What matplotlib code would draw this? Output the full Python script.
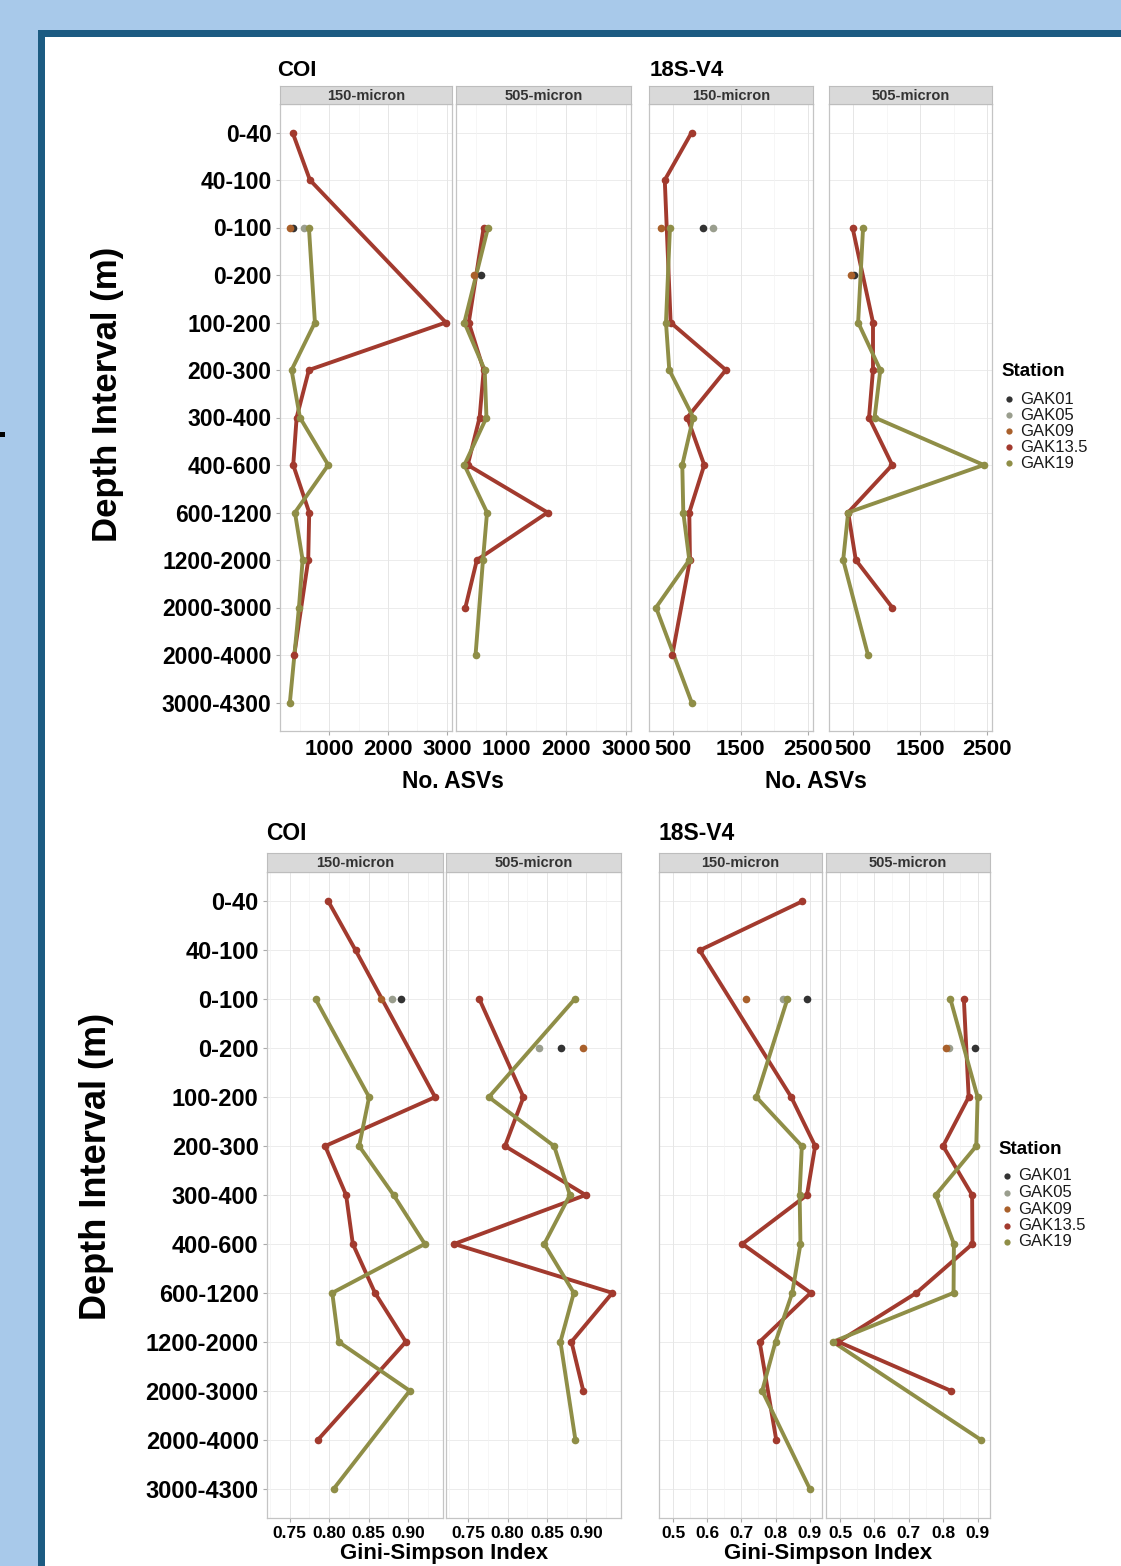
import matplotlib
matplotlib.use('Agg')
import matplotlib.pyplot as plt
from matplotlib.patches import Rectangle

plt.rcParams['font.family'] = ['Liberation Sans', 'DejaVu Sans']

W, H = 1121, 1566
DPI = 100

# ---------------- data ----------------
depth_intervals = ["0-40", "40-100", "0-100", "0-200", "100-200", "200-300", "300-400",
                   "400-600", "600-1200", "1200-2000", "2000-3000", "2000-4000", "3000-4300"]

station_names = ["GAK01", "GAK05", "GAK09", "GAK13.5", "GAK19"]
station_colors = ["#333333", "#9a9e8e", "#a9602b", "#a23a2e", "#8f8e47"]

N = None
# No. ASVs, COI, 150-micron
coi_asv_150_gak01 = [N, N, 376, N, N, N, N, N, N, N, N, N, N]
coi_asv_150_gak05 = [N, N, 574, N, N, N, N, N, N, N, N, N, N]
coi_asv_150_gak09 = [N, N, 330, N, N, N, N, N, N, N, N, N, N]
coi_asv_150_gak135 = [376, 671, N, N, 2983, 654, 445, 387, 659, 642, N, 404, N]
coi_asv_150_gak19 = [N, N, 654, N, 756, 359, 501, 983, 416, 547, 484, N, 330]
# No. ASVs, COI, 505-micron
coi_asv_505_gak01 = [N, N, N, 586, N, N, N, N, N, N, N, N, N]
coi_asv_505_gak05 = [N] * 13
coi_asv_505_gak09 = [N, N, N, 455, N, N, N, N, N, N, N, N, N]
coi_asv_505_gak135 = [N, N, 625, N, 375, 625, 557, 358, 1693, 511, 319, N, N]
coi_asv_505_gak19 = [N, N, 698, N, 302, 642, 671, 302, 681, 613, N, 489, N]
# No. ASVs, 18S-V4, 150-micron
s18_asv_150_gak01 = [N, N, 944, N, N, N, N, N, N, N, N, N, N]
s18_asv_150_gak05 = [N, N, 1092, N, N, N, N, N, N, N, N, N, N]
s18_asv_150_gak09 = [N, N, 313, N, N, N, N, N, N, N, N, N, N]
s18_asv_150_gak135 = [772, 373, N, N, 460, 1280, 707, 959, 737, 747, N, 485, N]
s18_asv_150_gak19 = [N, N, 450, N, 391, 440, 796, 633, 648, 737, 243, N, 772]
# No. ASVs, 18S-V4, 505-micron
s18_asv_505_gak01 = [N, N, N, 515, N, N, N, N, N, N, N, N, N]
s18_asv_505_gak05 = [N] * 13
s18_asv_505_gak09 = [N, N, N, 472, N, N, N, N, N, N, N, N, N]
s18_asv_505_gak135 = [N, N, 490, N, 796, 796, 737, 1083, 425, 539, 1083, N, N]
s18_asv_505_gak19 = [N, N, 648, N, 574, 905, 820, 2450, 425, 351, N, 722, N]

# Gini-Simpson, COI, 150-micron
coi_gs_150_gak01 = [N, N, 0.891, N, N, N, N, N, N, N, N, N, N]
coi_gs_150_gak05 = [N, N, 0.879, N, N, N, N, N, N, N, N, N, N]
coi_gs_150_gak09 = [N, N, 0.866, N, N, N, N, N, N, N, N, N, N]
coi_gs_150_gak135 = [0.799, 0.8335, N, N, 0.934, 0.795, 0.8215, 0.830, 0.858, 0.897, N, 0.786, N]
coi_gs_150_gak19 = [N, N, 0.783, N, 0.8506, 0.838, 0.8815, 0.921, 0.804, 0.812, 0.902, N, 0.806]
# Gini-Simpson, COI, 505-micron
coi_gs_505_gak01 = [N, N, N, 0.868, N, N, N, N, N, N, N, N, N]
coi_gs_505_gak05 = [N, N, N, 0.840, N, N, N, N, N, N, N, N, N]
coi_gs_505_gak09 = [N, N, N, 0.896, N, N, N, N, N, N, N, N, N]
coi_gs_505_gak135 = [N, N, 0.764, N, 0.820, 0.7965, 0.899, 0.732, 0.933, 0.881, 0.896, N, N]
coi_gs_505_gak19 = [N, N, 0.885, N, 0.776, 0.859, 0.879, 0.8465, 0.884, 0.867, N, 0.886, N]
# Gini-Simpson, 18S-V4, 150-micron
s18_gs_150_gak01 = [N, N, 0.892, N, N, N, N, N, N, N, N, N, N]
s18_gs_150_gak05 = [N, N, 0.822, N, N, N, N, N, N, N, N, N, N]
s18_gs_150_gak09 = [N, N, 0.713, N, N, N, N, N, N, N, N, N, N]
s18_gs_150_gak135 = [0.878, 0.578, N, N, 0.846, 0.916, 0.892, 0.703, 0.903, 0.7535, N, 0.802, N]
s18_gs_150_gak19 = [N, N, 0.8345, N, 0.744, 0.877, 0.8705, 0.873, 0.849, 0.800, 0.761, N, 0.900]
# Gini-Simpson, 18S-V4, 505-micron
s18_gs_505_gak01 = [N, N, N, 0.893, N, N, N, N, N, N, N, N, N]
s18_gs_505_gak05 = [N, N, N, 0.817, N, N, N, N, N, N, N, N, N]
s18_gs_505_gak09 = [N, N, N, 0.809, N, N, N, N, N, N, N, N, N]
s18_gs_505_gak135 = [N, N, 0.860, N, 0.874, 0.7995, 0.884, 0.885, 0.722, 0.495, 0.822, N, N]
s18_gs_505_gak19 = [N, N, 0.821, N, 0.900, 0.896, 0.778, 0.831, 0.830, 0.479, N, 0.909, N]

coi_asv_ticks = [1000, 2000, 3000]
coi_asv_tick_labels = ["1000", "2000", "3000"]
s18_asv_ticks = [500, 1500, 2500]
s18_asv_tick_labels = ["500", "1500", "2500"]
coi_gs_ticks = [0.75, 0.80, 0.85, 0.90]
coi_gs_tick_labels = ["0.75", "0.80", "0.85", "0.90"]
s18_gs_ticks = [0.5, 0.6, 0.7, 0.8, 0.9]
s18_gs_tick_labels = ["0.5", "0.6", "0.7", "0.8", "0.9"]
facet_labels = ["150-micron", "505-micron"]

# ---------------- figure ----------------
fig = plt.figure(figsize=(W / DPI, H / DPI), dpi=DPI)
fig.patch.set_facecolor('#a8c9ea')


def rect(x0, x1, y0, y1):
    return [x0 / W, 1 - y1 / H, (x1 - x0) / W, (y1 - y0) / H]


bg = fig.add_axes([0, 0, 1, 1])
bg.set_zorder(-10)
bg.set_xlim(0, W)
bg.set_ylim(H, 0)
bg.axis('off')
bg.add_patch(Rectangle((38, 30), W, H, facecolor='#1c5b82', edgecolor='none'))
bg.add_patch(Rectangle((45, 37), W, H, facecolor='white', edgecolor='none'))
bg.add_patch(Rectangle((0, 432), 5, 5, facecolor='black', edgecolor='none'))


def draw_panel(px, py, series, xlim, ticks, tick_labels, minor, show_y, ylab_size, xt_size,
               strip_label, strip_y):
    ax = fig.add_axes(rect(px[0], px[1], py[0], py[1]))
    ax.set_facecolor('white')
    ny = len(depth_intervals)
    ax.set_ylim(ny - 1 + 0.6, -0.6)
    ax.set_xlim(*xlim)
    for yy in range(ny):
        ax.axhline(yy, color='#ececec', lw=0.7, zorder=0)
    for xx in minor:
        ax.axvline(xx, color='#f3f3f3', lw=0.5, zorder=0)
    for xx in ticks:
        ax.axvline(xx, color='#e6e6e6', lw=0.7, zorder=0)
    # lines first, then points (ggplot layer order)
    pts = []
    for name, col in zip(station_names, station_colors):
        vals = series[name]
        xs = [v for v in vals if v is not None]
        ys = [i for i, v in enumerate(vals) if v is not None]
        pts.append((xs, ys, col))
        if len(xs) > 1:
            ax.plot(xs, ys, color=col, lw=2.8, solid_capstyle='round', zorder=2)
    for xs, ys, col in pts:
        ax.plot(xs, ys, 'o', color=col, ms=5.5, mec='none', zorder=3)
    ax.set_xticks(ticks)
    ax.set_xticklabels(tick_labels, fontsize=xt_size, fontweight='bold')
    ax.set_yticks(range(ny))
    if show_y:
        ax.set_yticklabels(depth_intervals, fontsize=ylab_size, fontweight='bold')
    else:
        ax.set_yticklabels([])
    ax.tick_params(axis='both', length=3, width=0.8, color='#aaaaaa', pad=3)
    if not show_y:
        ax.tick_params(axis='y', length=0)
    for s in ax.spines.values():
        s.set_color('#c4c4c4')
        s.set_linewidth(0.9)
    # strip
    sax = fig.add_axes(rect(px[0], px[1], strip_y[0], strip_y[1]))
    sax.set_facecolor('#d9d9d9')
    sax.set_xticks([])
    sax.set_yticks([])
    for s in sax.spines.values():
        s.set_color('#bdbdbd')
        s.set_linewidth(0.8)
    sax.text(0.5, 0.45, strip_label, transform=sax.transAxes, ha='center', va='center',
             fontsize=10.5, fontweight='bold', color='#333333')
    return ax


def series_of(a, b, c, d, e):
    return dict(zip(station_names, [a, b, c, d, e]))


# ---- top row (No. ASVs) ----
top_y = (104, 731)
top_strip = (86, 104)
coi_asv_xlim = (162, 3088)
s18_asv_xlim = (139, 2573)
draw_panel((280, 452), top_y,
           series_of(coi_asv_150_gak01, coi_asv_150_gak05, coi_asv_150_gak09, coi_asv_150_gak135, coi_asv_150_gak19),
           coi_asv_xlim, coi_asv_ticks, coi_asv_tick_labels, [500, 1500, 2500], True, 16.5, 16,
           facet_labels[0], top_strip)
draw_panel((456, 631), top_y,
           series_of(coi_asv_505_gak01, coi_asv_505_gak05, coi_asv_505_gak09, coi_asv_505_gak135, coi_asv_505_gak19),
           coi_asv_xlim, coi_asv_ticks, coi_asv_tick_labels, [500, 1500, 2500], False, 16.5, 16,
           facet_labels[1], top_strip)
draw_panel((649, 813), top_y,
           series_of(s18_asv_150_gak01, s18_asv_150_gak05, s18_asv_150_gak09, s18_asv_150_gak135, s18_asv_150_gak19),
           s18_asv_xlim, s18_asv_ticks, s18_asv_tick_labels, [1000, 2000], False, 16.5, 16,
           facet_labels[0], top_strip)
draw_panel((829, 992), top_y,
           series_of(s18_asv_505_gak01, s18_asv_505_gak05, s18_asv_505_gak09, s18_asv_505_gak135, s18_asv_505_gak19),
           s18_asv_xlim, s18_asv_ticks, s18_asv_tick_labels, [1000, 2000], False, 16.5, 16,
           facet_labels[1], top_strip)

# ---- bottom row (Gini-Simpson) ----
bot_y = (872, 1518)
bot_strip = (853, 872)
coi_gs_xlim = (0.7215, 0.9440)
s18_gs_xlim = (0.459, 0.936)
draw_panel((267, 443), bot_y,
           series_of(coi_gs_150_gak01, coi_gs_150_gak05, coi_gs_150_gak09, coi_gs_150_gak135, coi_gs_150_gak19),
           coi_gs_xlim, coi_gs_ticks, coi_gs_tick_labels, [0.725, 0.775, 0.825, 0.875, 0.925], True, 17, 12.5,
           facet_labels[0], bot_strip)
draw_panel((446, 621), bot_y,
           series_of(coi_gs_505_gak01, coi_gs_505_gak05, coi_gs_505_gak09, coi_gs_505_gak135, coi_gs_505_gak19),
           coi_gs_xlim, coi_gs_ticks, coi_gs_tick_labels, [0.725, 0.775, 0.825, 0.875, 0.925], False, 17, 12.5,
           facet_labels[1], bot_strip)
draw_panel((659, 822), bot_y,
           series_of(s18_gs_150_gak01, s18_gs_150_gak05, s18_gs_150_gak09, s18_gs_150_gak135, s18_gs_150_gak19),
           s18_gs_xlim, s18_gs_ticks, s18_gs_tick_labels, [0.55, 0.65, 0.75, 0.85], False, 17, 12.5,
           facet_labels[0], bot_strip)
draw_panel((826, 990), bot_y,
           series_of(s18_gs_505_gak01, s18_gs_505_gak05, s18_gs_505_gak09, s18_gs_505_gak135, s18_gs_505_gak19),
           s18_gs_xlim, s18_gs_ticks, s18_gs_tick_labels, [0.55, 0.65, 0.75, 0.85], False, 17, 12.5,
           facet_labels[1], bot_strip)


def ftext(x, y, s, **kw):
    fig.text(x / W, 1 - y / H, s, **kw)


# titles
ftext(277, 70, "COI", fontsize=16, fontweight='bold', ha='left', va='center')
ftext(650, 70, "18S-V4", fontsize=16, fontweight='bold', ha='left', va='center')
ftext(266, 833, "COI", fontsize=16.5, fontweight='bold', ha='left', va='center')
ftext(659, 833, "18S-V4", fontsize=16.5, fontweight='bold', ha='left', va='center')

# axis titles
ftext(108, 394, "Depth Interval (m)", fontsize=25, fontweight='bold', rotation=90, ha='center', va='center')
ftext(97, 1166, "Depth Interval (m)", fontsize=26, fontweight='bold', rotation=90, ha='center', va='center')
ftext(453, 782, "No. ASVs", fontsize=16.5, fontweight='bold', ha='center', va='center')
ftext(816, 782, "No. ASVs", fontsize=16.5, fontweight='bold', ha='center', va='center')
ftext(444, 1564, "Gini-Simpson Index", fontsize=16, fontweight='bold', ha='center', va='bottom')
ftext(828, 1564, "Gini-Simpson Index", fontsize=16, fontweight='bold', ha='center', va='bottom')


# legends
def legend(x_title, y_title, x_dot, x_txt, ys, title_size, txt_size):
    ftext(x_title, y_title, "Station", fontsize=title_size, fontweight='bold', ha='left', va='center')
    for yy, name, col in zip(ys, station_names, station_colors):
        bg.plot([x_dot], [yy], 'o', color=col, ms=4.5, mec='none')
        ftext(x_txt, yy, name, fontsize=txt_size, ha='left', va='center', color='#1a1a1a')


legend(1001, 372, 1009, 1020, [399, 415, 431, 447, 463], 13.5, 12)
legend(998, 1149, 1007, 1018, [1176, 1192.5, 1209, 1226, 1242], 13.5, 12)

fig.savefig('out.png', dpi=DPI, facecolor=fig.get_facecolor())
